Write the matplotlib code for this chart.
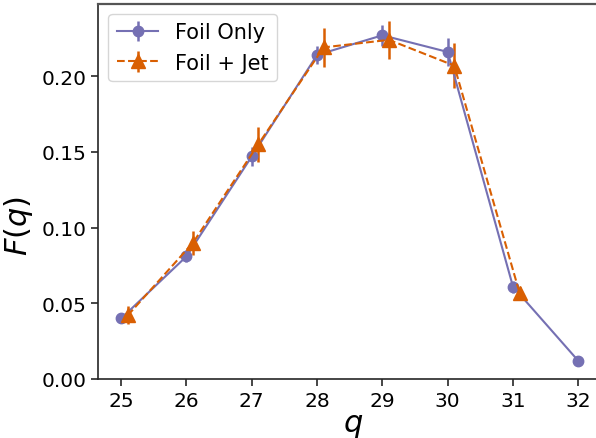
import matplotlib
matplotlib.use("Agg")
import matplotlib.pyplot as plt
import numpy as np

q_foil = [25, 26, 27, 28, 29, 30, 31, 32]
f_foil = [0.040, 0.081, 0.147, 0.214, 0.227, 0.216, 0.061, 0.012]
e_foil = [0.003, 0.004, 0.006, 0.006, 0.007, 0.009, 0.004, 0.001]

q_jet = [25, 26, 27, 28, 29, 30, 31]
f_jet = [0.042, 0.090, 0.155, 0.219, 0.224, 0.207, 0.057]
e_jet = [0.006, 0.008, 0.0115, 0.013, 0.0125, 0.015, 0.004]
jet_offset = 0.1

xticks = [25, 26, 27, 28, 29, 30, 31, 32]
yticks = [0.00, 0.05, 0.10, 0.15, 0.20]

purple = "#7570b3"
orange = "#d95f02"

fig = plt.figure(figsize=(5.96, 4.39), dpi=100)
ax = fig.add_axes([98/596, 1 - 380/439, (608-98)/596, (380-4.5)/439])

ax.errorbar(q_foil, f_foil, yerr=e_foil, color=purple, marker="o", ms=7.5,
            lw=1.5, elinewidth=1.8, ls="-", label="Foil Only")
ax.errorbar(np.array(q_jet) + jet_offset, f_jet, yerr=e_jet, color=orange, marker="^",
            ms=9.5, lw=1.5, elinewidth=1.8, ls="--", label="Foil + Jet")

ax.set_xlim(24.645, 32.455)
ax.set_ylim(0, 0.248)
ax.set_xticks(xticks)
ax.set_yticks(yticks)
ax.set_yticklabels([f"{v:.2f}" for v in yticks])
ax.tick_params(labelsize=14.5, direction="out", length=5, width=1.2, color="#262626")
ax.set_xlabel(r"$q$", fontsize=22, labelpad=0)
ax.set_ylabel(r"$F(q)$", fontsize=22)
ax.yaxis.set_label_coords(-0.1235, 0.41)
for s in ["left", "bottom"]:
    ax.spines[s].set_color("#262626")
    ax.spines[s].set_linewidth(1.2)
for s in ["top", "right"]:
    ax.spines[s].set_color("#555555")
    ax.spines[s].set_linewidth(1.6)

ax.legend(loc="upper left", fontsize=15, handlelength=2.0, borderaxespad=0.5)

fig.savefig("out.png", dpi=100)
